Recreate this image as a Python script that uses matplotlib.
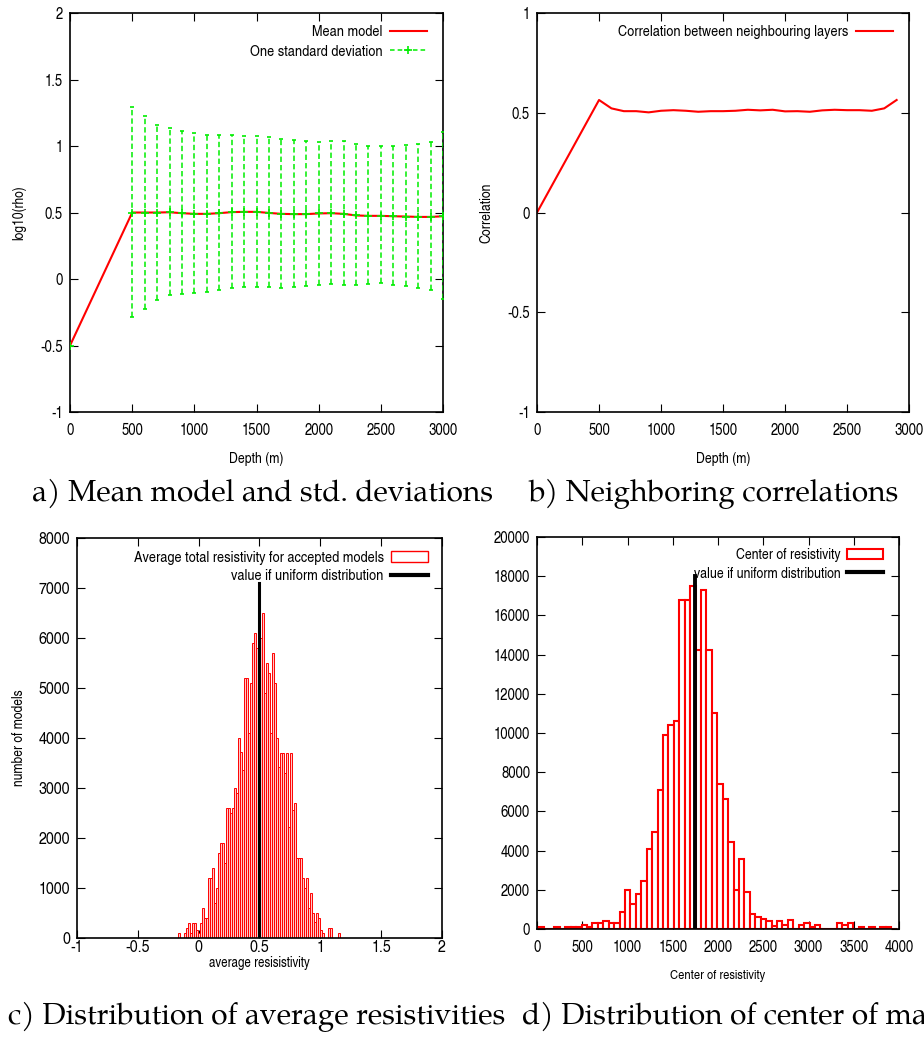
import matplotlib
matplotlib.use('Agg')
import matplotlib.pyplot as plt
from matplotlib.lines import Line2D
from matplotlib.patches import Patch

plt.rcParams['font.family'] = ['TeX Gyre Heros Cn', 'Liberation Sans', 'DejaVu Sans']
SERIF = ['TeX Gyre Pagella', 'DejaVu Serif']

# ---------------- Panel a: mean model and std deviations ----------------
depth_a = [0, 500, 600, 700, 800, 900, 1000, 1100, 1200, 1300, 1400, 1500, 1600,
           1700, 1800, 1900, 2000, 2100, 2200, 2300, 2400, 2500, 2600, 2700,
           2800, 2900, 3000]
mean_model = [-0.5, 0.50, 0.50, 0.50, 0.502, 0.495, 0.49, 0.49, 0.495, 0.503, 0.505,
              0.505, 0.497, 0.49, 0.488, 0.488, 0.493, 0.495, 0.49, 0.478, 0.475,
              0.475, 0.472, 0.47, 0.467, 0.467, 0.472]
std_upper = [-0.5, 1.293, 1.227, 1.159, 1.136, 1.114, 1.096, 1.083, 1.083, 1.08,
             1.078, 1.076, 1.066, 1.056, 1.045, 1.035, 1.03, 1.035, 1.035, 1.018,
             1.003, 0.998, 1.0, 1.008, 1.015, 1.033, 1.104]
std_lower = [-0.5, -0.285, -0.223, -0.155, -0.123, -0.115, -0.105, -0.095, -0.085,
             -0.068, -0.063, -0.058, -0.058, -0.065, -0.058, -0.053, -0.048, -0.038,
             -0.043, -0.048, -0.035, -0.033, -0.043, -0.05, -0.068, -0.085, -0.148]

# ---------------- Panel b: correlation ----------------
depth_b = [0, 500, 600, 700, 800, 900, 1000, 1100, 1200, 1300, 1400, 1500, 1600,
           1700, 1800, 1900, 2000, 2100, 2200, 2300, 2400, 2500, 2600, 2700,
           2800, 2900]
correlation = [0.0, 0.564, 0.522, 0.508, 0.508, 0.502, 0.51, 0.513, 0.51, 0.505,
               0.508, 0.508, 0.51, 0.515, 0.512, 0.515, 0.507, 0.508, 0.505, 0.512,
               0.515, 0.513, 0.513, 0.51, 0.522, 0.564]

# ---------------- Panel c: average resistivity histogram ----------------
c_first_center = -0.162
c_bin_width = 0.0164
c_counts = [93, 0, 0, 100, 193, 293, 93, 293, 293, 160,
            93, 293, 593, 393, 393, 1193, 1193, 1393, 693, 993,
            1693, 1893, 1893, 1493, 2593, 2593, 2493, 2593, 2993, 2893,
            3993, 3727, 3360, 5193, 5193, 4093, 5093, 5893, 6093, 5793,
            6793, 5993, 6493, 4893, 5493, 5293, 4093, 5693, 5093, 3993,
            3427, 3693, 3693, 3293, 3693, 2227, 3693, 2560, 2693, 1593,
            1593, 1593, 1193, 993, 1193, 593, 893, 493, 327, 493,
            393, 160, 93, 0, 0, 193, 193, 0, 0, 0, 93]
c_uniform_value = 0.5
c_uniform_height = 7100

# ---------------- Panel d: center of resistivity histogram ----------------
d_first_center = 42
d_bin_width = 60
d_counts = [85, 0, 0, 85, 0, 85, 85, 85, 204, 85,
            289, 289, 391, 289, 289, 884, 1972, 1265, 1775, 2470,
            4080, 4960, 7090, 9920, 10410, 10590, 16810, 16810, 17490, 14230,
            17290, 14230, 11000, 7395, 6613, 4460, 1980, 3570, 1890, 790,
            590, 500, 408, 180, 391, 187, 476, 0, 187, 289,
            85, 187, 0, 0, 0, 289, 204, 289, 0, 85,
            0, 85, 0, 85, 85, 0]
d_uniform_value = 1750
d_uniform_height = 18000

# tick labels
a_xticks = [0, 500, 1000, 1500, 2000, 2500, 3000]
a_yticks = [-1, -0.5, 0, 0.5, 1, 1.5, 2]
b_yticks = [-1, -0.5, 0, 0.5, 1]
c_xticks = [-1, -0.5, 0, 0.5, 1, 1.5, 2]
c_yticks = [0, 1000, 2000, 3000, 4000, 5000, 6000, 7000, 8000]
d_xticks = [0, 500, 1000, 1500, 2000, 2500, 3000, 3500, 4000]
d_yticks = [0, 2000, 4000, 6000, 8000, 10000, 12000, 14000, 16000, 18000, 20000]

GREEN = '#00ee00'


def fmt(v):
    return '%g' % v


def style(ax, xt, yt, fs, xpad, ypad=5):
    ax.set_xticks(xt)
    ax.set_xticklabels([fmt(v) for v in xt])
    ax.set_yticks(yt)
    ax.set_yticklabels([fmt(v) for v in yt])
    ax.tick_params(direction='in', length=6, width=0.8, top=True, right=True,
                   labelsize=fs)
    ax.tick_params(axis='x', pad=xpad)
    ax.tick_params(axis='y', pad=ypad)
    for s in ax.spines.values():
        s.set_linewidth(1.2)


def legend(ax, handles, labels, anchor, fs=11.2, spacing=0.3):
    ax.legend(handles, labels, loc='upper right', bbox_to_anchor=anchor,
              borderaxespad=0, borderpad=0, frameon=False, markerfirst=False,
              fontsize=fs, handlelength=2.4, handletextpad=0.45,
              labelspacing=spacing)


fig = plt.figure(figsize=(9.24, 10.4), dpi=100)

# ---- a ----
axa = fig.add_axes([0.0758, 0.6038, 0.4037, 0.3837])
axa.plot(depth_a, mean_model, color='red', lw=1.5, zorder=3)
yerr = [[m - l for m, l in zip(mean_model, std_lower)],
        [u - m for m, u in zip(mean_model, std_upper)]]
eb = axa.errorbar(depth_a, mean_model, yerr=yerr, fmt='+', color=GREEN,
                  ecolor=GREEN, elinewidth=1.1, capsize=1.5, markersize=6,
                  markeredgewidth=1.2, zorder=4)
eb[2][0].set_linestyle((0, (3.5, 2)))
axa.set_xlim(0, 3000)
axa.set_ylim(-1, 2)
style(axa, a_xticks, a_yticks, 11.5, 8)
axa.set_xlabel('Depth (m)', fontsize=10.8)
axa.set_ylabel('log10(rho)', fontsize=10.6)
axa.xaxis.set_label_coords(0.5, -0.1)
axa.yaxis.set_label_coords(-0.118, 0.5)
legend(axa, [Line2D([], [], color='red', lw=1.5),
             Line2D([], [], color=GREEN, lw=1.1, ls=(0, (3, 2)), marker='+',
                    markersize=6, markeredgewidth=1.2)],
       ['Mean model', 'One standard deviation'], (0.957, 0.97), spacing=0.38)

# ---- b ----
axb = fig.add_axes([0.5812, 0.6038, 0.4026, 0.3837])
axb.plot(depth_b, correlation, color='red', lw=1.5)
axb.set_xlim(0, 3000)
axb.set_ylim(-1, 1)
style(axb, a_xticks, b_yticks, 11.5, 8)
axb.set_xlabel('Depth (m)', fontsize=10.8)
axb.set_ylabel('Correlation', fontsize=10.8)
axb.xaxis.set_label_coords(0.5, -0.1)
axb.yaxis.set_label_coords(-0.118, 0.5)
legend(axb, [Line2D([], [], color='red', lw=1.5)],
       ['Correlation between neighbouring layers'], (0.957, 0.97))

# ---- c ----
axc = fig.add_axes([0.0833, 0.0981, 0.3950, 0.3846])
c_centers = [c_first_center + c_bin_width * i for i in range(len(c_counts))]
axc.bar(c_centers, c_counts, width=c_bin_width, facecolor='#ffc8c8',
        edgecolor='red', linewidth=0.7, zorder=2)
axc.plot([c_uniform_value, c_uniform_value], [0, c_uniform_height], color='black',
         lw=2.2, zorder=3)
axc.set_xlim(-1, 2)
axc.set_ylim(0, 8000)
style(axc, c_xticks, c_yticks, 12.5, 1.5)
axc.set_xlabel('average resisistivity', fontsize=10.2)
axc.set_ylabel('number of models', fontsize=10.6)
axc.xaxis.set_label_coords(0.5, -0.045)
axc.yaxis.set_label_coords(-0.14, 0.5)
legend(axc, [Patch(facecolor='white', edgecolor='red', linewidth=1.0),
             Line2D([], [], color='black', lw=3)],
       ['Average total resistivity for accepted models',
        'value if uniform distribution'], (0.962, 0.968))

# ---- d ----
axd = fig.add_axes([0.5812, 0.1067, 0.3918, 0.3769])
d_centers = [d_first_center + d_bin_width * i for i in range(len(d_counts))]
axd.bar(d_centers, d_counts, width=d_bin_width, facecolor='white',
        edgecolor='red', linewidth=1.5, zorder=2)
axd.plot([d_uniform_value, d_uniform_value], [0, d_uniform_height], color='black',
         lw=2.8, zorder=3)
axd.set_xlim(0, 4000)
axd.set_ylim(0, 20000)
style(axd, d_xticks, d_yticks, 11.5, 8)
axd.set_xlabel('Center of resistivity', fontsize=9.8)
axd.xaxis.set_label_coords(0.5, -0.105)
legend(axd, [Patch(facecolor='white', edgecolor='red', linewidth=1.5),
             Line2D([], [], color='black', lw=3)],
       ['Center of resistivity', 'value if uniform distribution'], (0.956, 0.972),
       fs=10.8)

# ---- captions ----
cap_kw = dict(family=SERIF, fontsize=21.5, va='baseline', ha='left')
fig.text(32 / 924, 1 - 501 / 1040, 'a) Mean model and std. deviations', **cap_kw)
fig.text(528 / 924, 1 - 501 / 1040, 'b) Neighboring correlations', **cap_kw)
fig.text(8 / 924, 1 - 1024 / 1040, 'c) Distribution of average resistivities', **cap_kw)
fig.text(522 / 924, 1 - 1024 / 1040, 'd) Distribution of center of mass', **cap_kw)

fig.savefig('out.png', dpi=100)
